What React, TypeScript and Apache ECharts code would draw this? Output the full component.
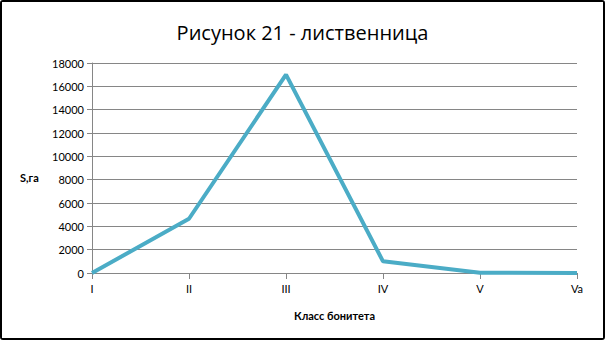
import React, { useEffect, useRef } from "react";
import * as echarts from "echarts";

const titleText = "Рисунок 21 - лиственница";
const categories = ["I", "II", "III", "IV", "V", "Va"];
const areaValues = [0, 4650, 17000, 1000, 30, 0];
const yAxisName = "S,га";
const xAxisName = "Класс бонитета";

export default function App() {
  const ref = useRef<HTMLDivElement>(null);
  useEffect(() => {
    if (!ref.current) return;
    const chart = echarts.init(ref.current, null, { renderer: "svg" });
    const font = "Lato, Open Sans, sans-serif";
    chart.setOption({
      animation: false,
      backgroundColor: "#ffffff",
      title: {
        text: titleText,
        left: "center",
        top: 15,
        textStyle: { fontFamily: "Open Sans, sans-serif", fontSize: 20, fontWeight: "normal", color: "#000000" },
      },
      grid: { left: 90, right: 26, top: 61, bottom: 65 },
      xAxis: {
        type: "category",
        data: categories,
        boundaryGap: false,
        name: xAxisName,
        nameLocation: "middle",
        nameGap: 37,
        nameTextStyle: { fontFamily: font, fontSize: 11, fontWeight: "bold", color: "#000000" },
        axisLine: { show: true, lineStyle: { color: "#868686", width: 1 } },
        axisTick: { show: true, alignWithLabel: true, length: 6, lineStyle: { color: "#868686" } },
        axisLabel: { fontFamily: font, fontSize: 11, color: "#000000", margin: 10 },
        splitLine: { show: false },
      },
      yAxis: {
        type: "value",
        min: 0,
        max: 18000,
        interval: 2000,
        axisLine: { show: true, lineStyle: { color: "#868686", width: 1 } },
        axisTick: { show: true, length: 5, lineStyle: { color: "#868686" } },
        axisLabel: {
          fontFamily: font,
          fontSize: 11,
          color: "#000000",
          margin: 8,
          formatter: (v: number) => String(v),
        },
        splitLine: { show: true, lineStyle: { color: "#868686", width: 1 } },
      },
      graphic: [
        {
          type: "text",
          left: 18,
          top: 170,
          style: { text: yAxisName, fontFamily: font, fontSize: 11, fontWeight: "bold", fill: "#000000" },
        },
      ],
      series: [
        {
          type: "line",
          data: areaValues,
          showSymbol: false,
          symbol: "none",
          lineStyle: { color: "#4BACC6", width: 4 },
          itemStyle: { color: "#4BACC6" },
        },
      ],
    });
    return () => chart.dispose();
  }, []);
  return (
    <div
      style={{
        position: "fixed",
        left: 0,
        top: 0,
        width: 605,
        height: 340,
        boxSizing: "border-box",
        border: "2px solid #000",
        borderRadius: 3,
        background: "#fff",
      }}
    >
      <div ref={ref} style={{ width: 601, height: 336 }} />
    </div>
  );
}
